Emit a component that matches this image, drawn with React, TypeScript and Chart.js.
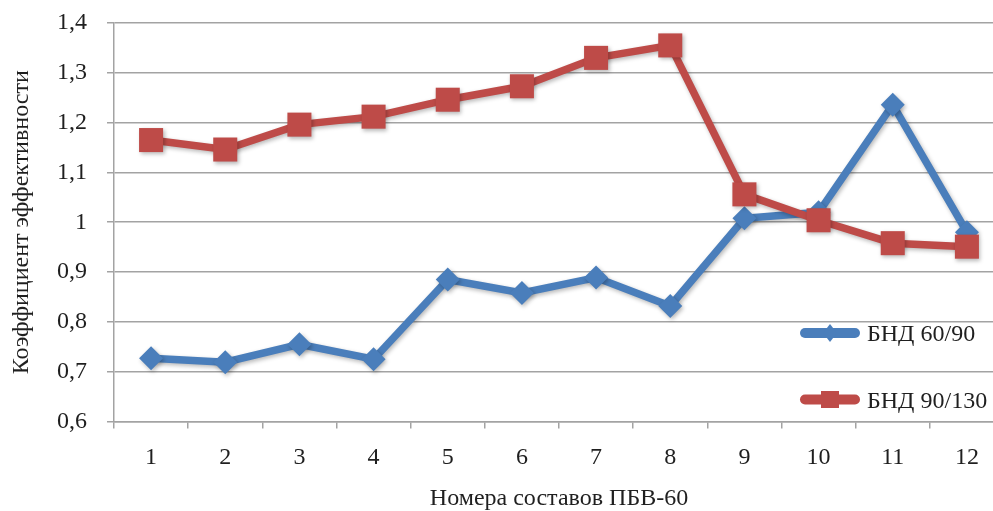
import React, { useEffect, useRef } from 'react';
import { Chart, registerables } from 'chart.js';

Chart.register(...registerables);

const categories = ['1', '2', '3', '4', '5', '6', '7', '8', '9', '10', '11', '12'];
const bnd6090 = [0.727, 0.719, 0.755, 0.725, 0.885, 0.858, 0.889, 0.832, 1.008, 1.02, 1.236, 0.98];
const bnd90130 = [1.165, 1.146, 1.196, 1.212, 1.246, 1.273, 1.33, 1.355, 1.056, 1.004, 0.958, 0.951];
const seriesLabels = ['БНД 60/90', 'БНД 90/130'];
const yMin = 0.6;
const yMax = 1.4;
const yStep = 0.1;
const xTitle = 'Номера составов ПБВ-60';
const yTitle = 'Коэффициент эффективности';

const FONT = "'Liberation Serif', 'Times New Roman', serif";
const FS = 24;
const TEXT = '#1f1f1f';
const BLUE = '#4A7EBB';
const RED = '#BE4B48';
const GRID = '#A3A3A3';

const shadowPlugin = {
  id: 'softShadow',
  beforeDatasetsDraw(chart: any) {
    const c = chart.ctx;
    c.save();
    c.shadowColor = 'rgba(0,0,0,0.28)';
    c.shadowBlur = 4;
    c.shadowOffsetX = 1.5;
    c.shadowOffsetY = 2;
  },
  afterDatasetsDraw(chart: any) {
    chart.ctx.restore();
  },
};

const legendPlugin = {
  id: 'insideLegend',
  afterDraw(chart: any) {
    const { ctx, chartArea } = chart;
    const x0 = chartArea.right - 204;
    const rows = [chartArea.bottom - 88.5, chartArea.bottom - 22];
    chart.data.datasets.forEach((ds: any, i: number) => {
      const y = rows[i];
      ctx.save();
      ctx.strokeStyle = ds.borderColor;
      ctx.fillStyle = ds.borderColor;
      ctx.lineWidth = 10;
      ctx.lineCap = 'round';
      ctx.beginPath();
      ctx.moveTo(x0 + 5, y);
      ctx.lineTo(x0 + 55, y);
      ctx.stroke();
      const cx = x0 + 30;
      if (ds.pointStyle === 'rect') {
        ctx.fillRect(cx - 9, y - 8.5, 18, 17);
      } else {
        ctx.beginPath();
        ctx.moveTo(cx, y - 9);
        ctx.lineTo(cx + 7, y);
        ctx.lineTo(cx, y + 9);
        ctx.lineTo(cx - 7, y);
        ctx.closePath();
        ctx.fill();
      }
      ctx.fillStyle = TEXT;
      ctx.font = `${FS}px ${FONT}`;
      ctx.textBaseline = 'middle';
      ctx.textAlign = 'left';
      ctx.fillText(ds.label, x0 + 67, y + 2);
      ctx.restore();
    });
  },
};

export default function App() {
  const canvasRef = useRef<HTMLCanvasElement | null>(null);

  useEffect(() => {
    if (!canvasRef.current) return;
    const chart = new Chart(canvasRef.current, {
      type: 'line',
      data: {
        labels: categories,
        datasets: [
          {
            label: seriesLabels[0],
            data: bnd6090,
            borderColor: BLUE,
            backgroundColor: BLUE,
            borderWidth: 7.5,
            pointStyle: 'rectRot',
            pointRadius: 12,
            pointBorderWidth: 0,
            pointBackgroundColor: BLUE,
            tension: 0,
            order: 1,
            clip: false,
          } as any,
          {
            label: seriesLabels[1],
            data: bnd90130,
            borderColor: RED,
            backgroundColor: RED,
            borderWidth: 7.5,
            pointStyle: 'rect',
            pointRadius: 17,
            pointBorderWidth: 0,
            pointBackgroundColor: RED,
            tension: 0,
            order: 0,
            clip: false,
          } as any,
        ],
      },
      options: {
        responsive: false,
        maintainAspectRatio: false,
        animation: false,
        devicePixelRatio: 1,
        layout: { autoPadding: false, padding: { top: 23, right: 6, bottom: 0, left: 0 } },
        plugins: {
          legend: { display: false },
          tooltip: { enabled: false },
        },
        scales: {
          x: {
            type: 'category',
            offset: true,
            grid: {
              offset: true,
              drawOnChartArea: false,
              drawTicks: true,
              tickLength: 7,
              color: GRID,
              lineWidth: 1.5,
            },
            border: { display: true, color: GRID, width: 1.5 },
            ticks: {
              font: { family: FONT, size: FS },
              color: TEXT,
              padding: 15,
              maxRotation: 0,
              autoSkip: false,
            },
            title: {
              display: true,
              text: xTitle,
              font: { family: FONT, size: FS },
              color: TEXT,
              padding: { top: 0, bottom: -2.5 },
            },
            afterFit: (s: any) => {
              s.height = 89.5;
              s.paddingLeft = 0;
              s.paddingRight = 0;
            },
          },
          y: {
            min: yMin,
            max: yMax,
            grid: {
              color: GRID,
              lineWidth: 1.5,
              tickLength: 7,
              drawTicks: true,
            },
            border: { display: true, color: GRID, width: 1.5 },
            ticks: {
              stepSize: yStep,
              font: { family: FONT, size: FS },
              color: TEXT,
              padding: 20,
              callback: (v: any) => String(Math.round(Number(v) * 10) / 10).replace('.', ','),
            },
            title: {
              display: true,
              text: yTitle,
              font: { family: FONT, size: FS },
              color: TEXT,
              padding: { top: 7, bottom: 0 },
            },
            afterFit: (s: any) => {
              s.width = 114;
              s.paddingTop = 0;
              s.paddingBottom = 0;
            },
          },
        },
      } as any,
      plugins: [shadowPlugin, legendPlugin],
    });
    return () => chart.destroy();
  }, []);

  return (
    <div
      style={{
        position: 'fixed',
        left: 0,
        top: 0,
        width: 993,
        height: 511,
        overflow: 'hidden',
        background: '#fff',
      }}
    >
      <canvas ref={canvasRef} width={1010} height={511} style={{ width: 1010, height: 511, display: 'block' }} />
    </div>
  );
}
